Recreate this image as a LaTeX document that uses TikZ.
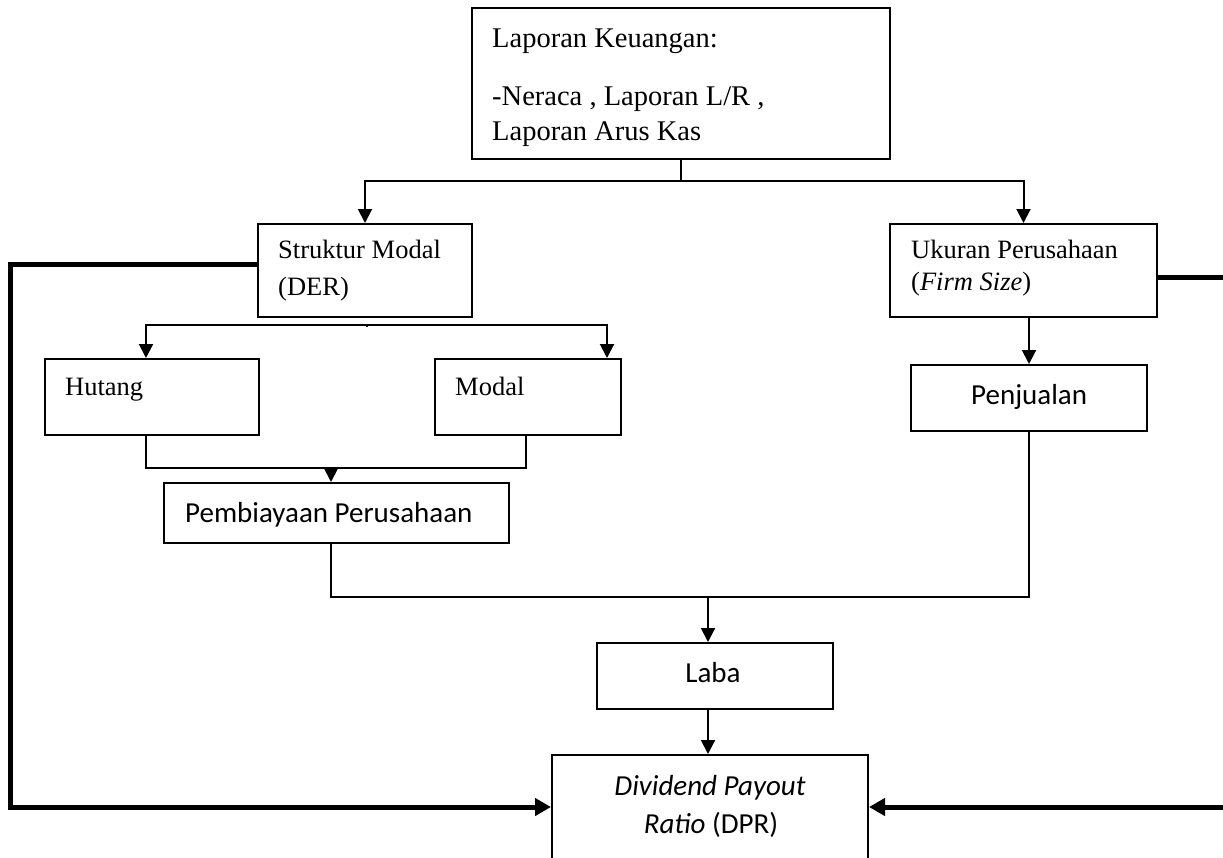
\documentclass[tikz,border=0pt]{standalone}
\usepackage{fontspec}
\setmainfont{Liberation Serif}
\newfontfamily\calib{Carlito}
\usetikzlibrary{arrows.meta}
\begin{document}
\begin{tikzpicture}[x=1pt,y=-1pt,
  box/.style={draw=black,line width=2pt,fill=white,inner sep=0pt,rectangle},
  ser/.style={font=\fontsize{26.5}{32}\selectfont,inner sep=0pt,anchor=base west},
  sert/.style={font=\fontsize{28.5}{34}\selectfont,inner sep=0pt,anchor=base west},
  cal/.style={font=\calib\fontsize{29}{35}\selectfont,inner sep=0pt,anchor=base west},
  conn/.style={line width=2pt},
  arr/.style={line width=2pt,-{Triangle[length=14pt,width=14pt]}},
  thickline/.style={line width=5pt},
  thickarr/.style={line width=5pt,-{Triangle[length=16pt,width=17pt]}}]
\useasboundingbox (0,0) rectangle (1223,857);
\clip (0,0) rectangle (1223,857);
\fill[white] (0,0) rectangle (1223,857);

% boxes
\node[box,minimum width=418pt,minimum height=151pt] (top) at (681,83.5) {};
\node[box,minimum width=214pt,minimum height=93pt] (struk) at (365,270.5) {};
\node[box,minimum width=267pt,minimum height=93pt] (uk) at (1023.5,270.5) {};
\node[box,minimum width=214pt,minimum height=76pt] (hut) at (152,397) {};
\node[box,minimum width=186pt,minimum height=76pt] (mod) at (527.5,397) {};
\node[box,minimum width=345pt,minimum height=60pt] (pemb) at (336.5,513) {};
\node[box,minimum width=236pt,minimum height=66pt] (penj) at (1029,398) {};
\node[box,minimum width=236pt,minimum height=66pt] (laba) at (715,676) {};
\node[box,minimum width=316pt,minimum height=125pt] (dpr) at (710,817.5) {};

% texts
\node[sert] (t1) at (492,47) {Laporan Keuangan:};
\node[sert] (t2) at (492,105) {-Neraca , Laporan L/R ,};
\node[sert] (t3) at (492,140) {Laporan Arus Kas};
\node[ser] (s1) at (278,258) {Struktur Modal};
\node[ser] (s2) at (278,295) {(DER)};
\node[ser] (u1) at (911,258) {Ukuran Perusahaan};
\node[ser] (u2) at (911,290) {(\textit{Firm Size})};
\node[ser] (ht) at (65,395) {Hutang};
\node[ser] (mt) at (455,395) {Modal};
\node[cal] (pt) at (185,522) {Pembiayaan Perusahaan};
\node[cal] (pj) at (971,404) {Penjualan};
\node[cal,anchor=base] (lb) at (713,682) {Laba};
\node[cal,anchor=base] (d1) at (710,795) {\textit{Dividend Payout}};
\node[cal,anchor=base] (d2) at (711,833) {\textit{Ratio} (DPR)};

% helper coordinates
\coordinate (j1) at (681,181);
\coordinate (j2) at (367,325);
\coordinate (j3) at (331,468);
\coordinate (j4) at (708,597);
\coordinate (xh) at (146,0);
\coordinate (xm) at (607,0);
\coordinate (xmb) at (526,0);
\coordinate (xp) at (331,0);
\coordinate (xs) at (367,0);
\coordinate (yl) at (0,264);
\coordinate (lc1) at (10,264);
\coordinate (lc2) at (10,807);
\coordinate (rc1) at (1230,277);
\coordinate (rc2) at (1230,807);

% connectors
\draw[conn] (top.south) -- (j1);
\draw[arr] (j1) -| (struk.north);
\draw[arr] (j1) -| (uk.north);
\draw[conn] ([yshift=-9pt]struk.south -| xs) -- (j2);
\draw[arr] (j2) -| (hut.north -| xh);
\draw[arr] (j2) -| (mod.north -| xm);
\draw[conn] (hut.south -| xh) |- (j3) -| (mod.south -| xmb);
\draw[arr] (j3) -- (pemb.north -| xp);
\draw[arr] (uk.south -| penj.north) -- (penj.north);
\draw[conn] (pemb.south -| xp) |- (j4) -| (penj.south);
\draw[arr] (j4) -- (laba.north -| j4);
\draw[arr] (laba.south -| j4) -- (dpr.north -| j4);

% thick feedback lines
\draw[thickarr,line join=miter] (struk.west |- yl) -- (lc1) -- (lc2) -- (dpr.west |- lc2);
\draw[thickline] (uk.east |- rc1) -- (rc1);
\draw[thickarr] (rc2) -- (dpr.east |- rc2);
\end{tikzpicture}
\end{document}
